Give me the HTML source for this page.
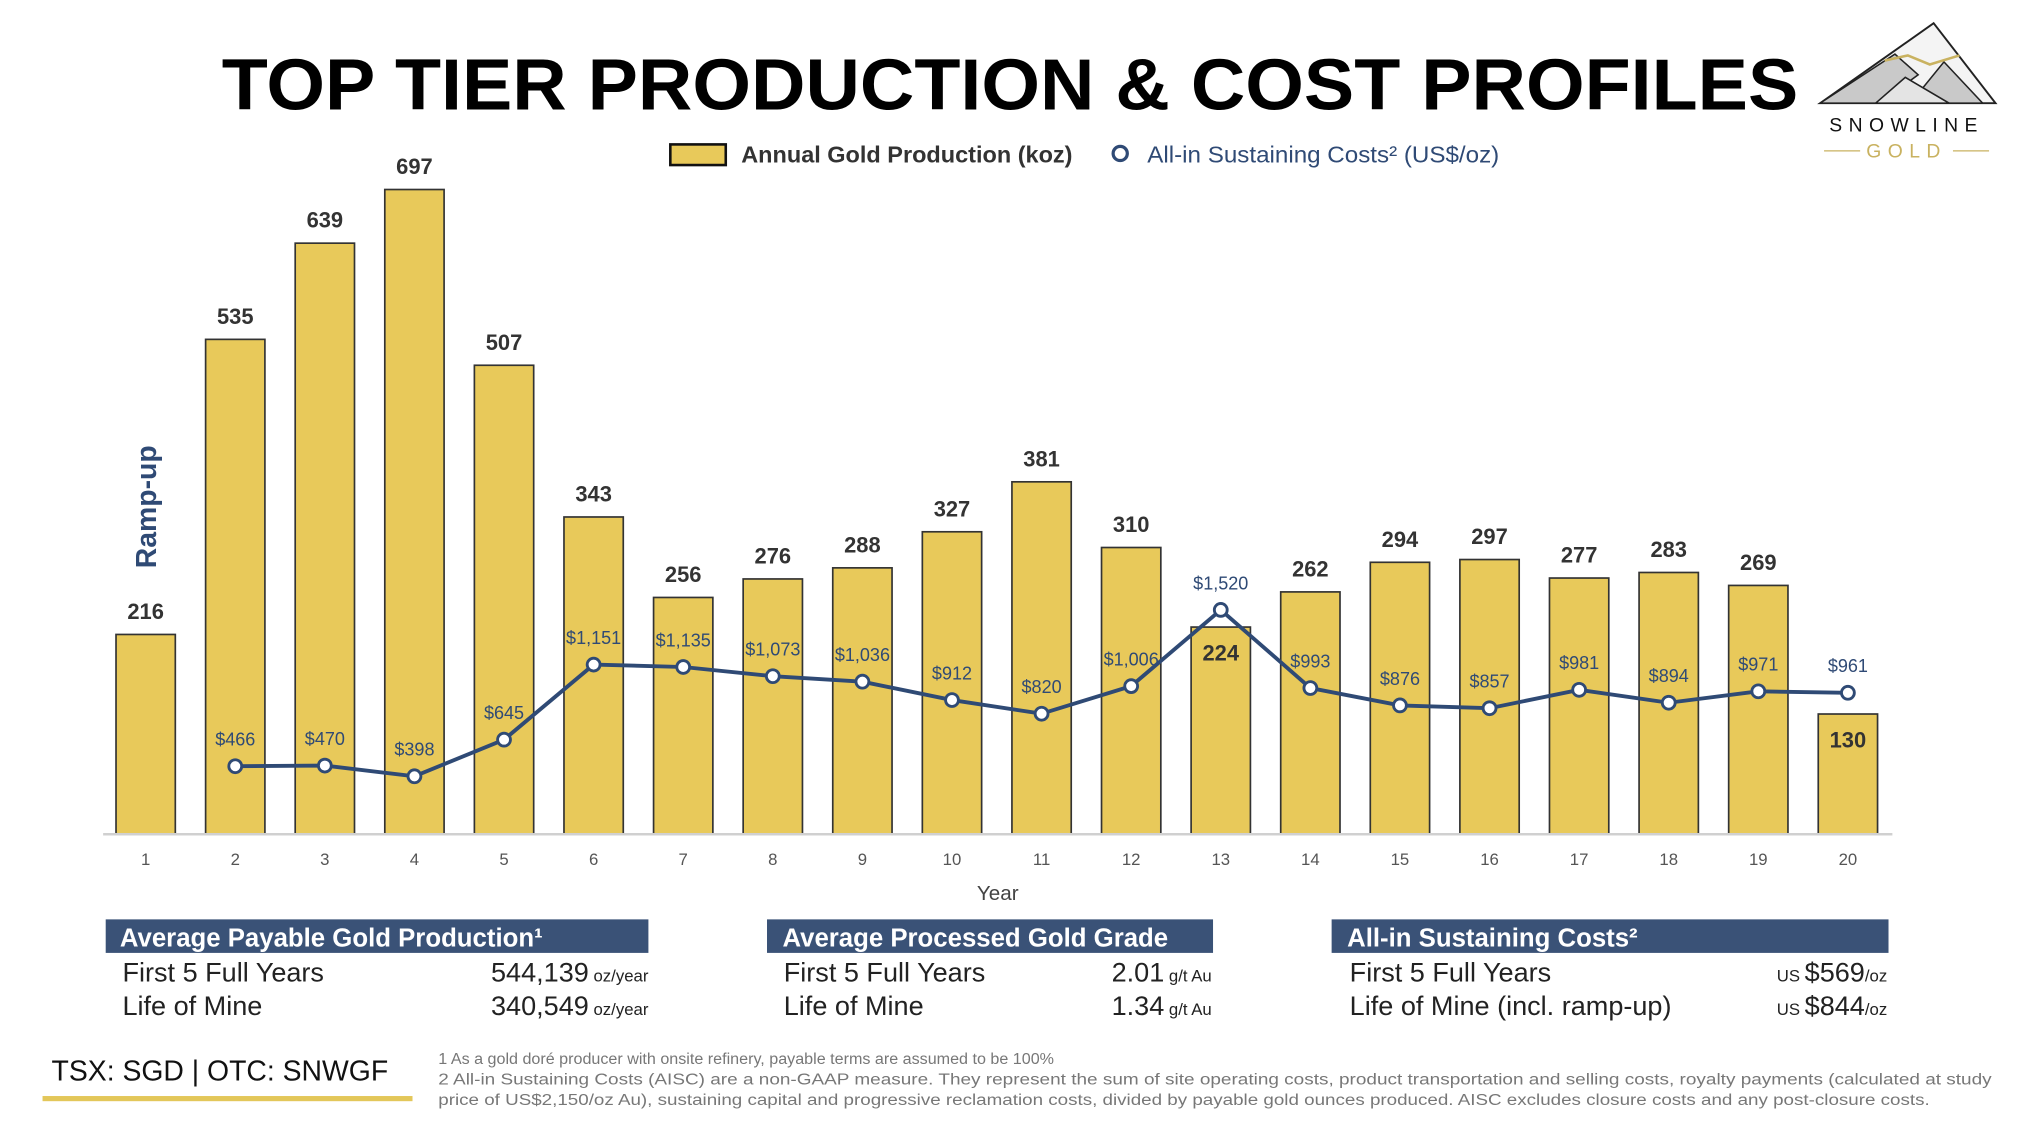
<!DOCTYPE html>
<html><head><meta charset="utf-8"><style>
html,body{margin:0;padding:0;background:#fff;width:2020px;height:1136px;overflow:hidden}
svg{display:block;font-family:"Liberation Sans",sans-serif}
</style></head><body>
<svg id="chart" width="2020" height="1136" viewBox="0 0 1567 881" preserveAspectRatio="none" xmlns="http://www.w3.org/2000/svg">
<text x="172" y="85" font-size="56" font-weight="bold" fill="#000" textLength="1223" lengthAdjust="spacingAndGlyphs">TOP TIER PRODUCTION &amp; COST PROFILES</text>
<g>
<polygon points="1412,80 1500,18 1548,80" fill="#f4f4f4" stroke="#222" stroke-width="1.5"/>
<polygon points="1412,80 1470,42 1488,58 1458,80" fill="#c9c9c9" stroke="#222" stroke-width="1.2"/>
<polygon points="1482,80 1508,48 1538,80" fill="#c9c9c9" stroke="#222" stroke-width="1.2"/>
<polygon points="1455,80 1478,60 1512,80" fill="#e4e4e4" stroke="#222" stroke-width="1.2"/>
<polyline points="1462,47 1480,43 1497,50 1520,43" fill="none" stroke="#c9b260" stroke-width="2"/>
<text x="1479" y="102" font-size="15" text-anchor="middle" letter-spacing="5" fill="#111">SNOWLINE</text>
<text x="1479" y="122" font-size="15" text-anchor="middle" letter-spacing="5" fill="#c9b260">GOLD</text>
<line x1="1415" y1="117" x2="1443" y2="117" stroke="#c9b260"/><line x1="1515" y1="117" x2="1543" y2="117" stroke="#c9b260"/>
</g>
<g>
<rect x="520" y="112" width="43" height="16" fill="#e8c95a" stroke="#111" stroke-width="2"/>
<text x="575" y="126" font-size="18" font-weight="bold" fill="#333" textLength="257" lengthAdjust="spacingAndGlyphs">Annual Gold Production (koz)</text>
<circle cx="869" cy="119" r="5.5" fill="#fff" stroke="#2f4a75" stroke-width="2.5"/>
<text x="890" y="126" font-size="18" fill="#2f4a75" textLength="273" lengthAdjust="spacingAndGlyphs">All-in Sustaining Costs² (US$/oz)</text>
</g>
<text transform="translate(121,393) rotate(-90)" font-size="22" font-weight="bold" fill="#2f4a75" text-anchor="middle">Ramp-up</text>
<g id="bars"></g>
<line x1="80" y1="647" x2="1468" y2="647" stroke="#d0d0d0" stroke-width="2"/>
<g id="line"></g>
<g id="ticks"></g>
<text x="774" y="698" font-size="16" fill="#444" text-anchor="middle">Year</text>

<g font-size="21" fill="#222">
<rect x="82" y="713" width="421" height="26" fill="#3a5277"/>
<text x="93" y="734" fill="#fff" font-weight="bold" font-size="20">Average Payable Gold Production¹</text>
<text x="95" y="761">First 5 Full Years</text><text x="503" y="761" text-anchor="end">544,139<tspan font-size="13"> oz/year</tspan></text>
<text x="95" y="787">Life of Mine</text><text x="503" y="787" text-anchor="end">340,549<tspan font-size="13"> oz/year</tspan></text>
</g>
<g font-size="21" fill="#222">
<rect x="595" y="713" width="346" height="26" fill="#3a5277"/>
<text x="607" y="734" fill="#fff" font-weight="bold" font-size="20">Average Processed Gold Grade</text>
<text x="608" y="761">First 5 Full Years</text><text x="940" y="761" text-anchor="end">2.01<tspan font-size="13"> g/t Au</tspan></text>
<text x="608" y="787">Life of Mine</text><text x="940" y="787" text-anchor="end">1.34<tspan font-size="13"> g/t Au</tspan></text>
</g>
<g font-size="21" fill="#222">
<rect x="1033" y="713" width="432" height="26" fill="#3a5277"/>
<text x="1045" y="734" fill="#fff" font-weight="bold" font-size="20">All-in Sustaining Costs²</text>
<text x="1047" y="761">First 5 Full Years</text><text x="1464" y="761" text-anchor="end"><tspan font-size="13">US </tspan>$569<tspan font-size="13">/oz</tspan></text>
<text x="1047" y="787">Life of Mine (incl. ramp-up)</text><text x="1464" y="787" text-anchor="end"><tspan font-size="13">US </tspan>$844<tspan font-size="13">/oz</tspan></text>
</g>
<text x="40" y="838" font-size="22" fill="#111">TSX: SGD | OTC: SNWGF</text>
<rect x="33" y="850" width="287" height="4" fill="#e3c75a"/>
<g font-size="12.5" fill="#777">
<text x="340" y="825">1 As a gold doré producer with onsite refinery, payable terms are assumed to be 100%</text>
<text x="340" y="841" textLength="1205" lengthAdjust="spacingAndGlyphs">2 All-in Sustaining Costs (AISC) are a non-GAAP measure. They represent the sum of site operating costs, product transportation and selling costs, royalty payments (calculated at study</text>
<text x="340" y="857" textLength="1157" lengthAdjust="spacingAndGlyphs">price of US$2,150/oz Au), sustaining capital and progressive reclamation costs, divided by payable gold ounces produced.  AISC excludes closure costs and any post-closure costs.</text>
</g>
</svg>
<script>
const years = [1,2,3,4,5,6,7,8,9,10,11,12,13,14,15,16,17,18,19,20];
const production = [216,535,639,697,507,343,256,276,288,327,381,310,224,262,294,297,277,283,269,130];
const aiscYears = [2,3,4,5,6,7,8,9,10,11,12,13,14,15,16,17,18,19,20];
const aisc = [466,470,398,645,1151,1135,1073,1036,912,820,1006,1520,993,876,857,981,894,971,961];
const aiscLabels = ["$466","$470","$398","$645","$1,151","$1,135","$1,073","$1,036","$912","$820","$1,006","$1,520","$993","$876","$857","$981","$894","$971","$961"];
const NS="http://www.w3.org/2000/svg";
const xPos = y => 113 + (y-1)*69.5;
const yProd = v => 647 - v*0.7174;
const yCost = v => 647.8 - v*0.115;
function mk(tag, attrs, parent){const e=document.createElementNS(NS,tag);for(const k in attrs)e.setAttribute(k,attrs[k]);parent.appendChild(e);return e;}
const bars=document.getElementById('bars'), line=document.getElementById('line'), ticks=document.getElementById('ticks');
years.forEach((yr,i)=>{
  const v=production[i], top=yProd(v), cx=xPos(yr);
  const r=mk('rect',{x:cx-23,y:top,width:46,height:647-top,fill:'#e8c95a',stroke:'#333','stroke-width':1.3},bars);
  
  
  const inside = (yr===13||yr===20);
  const t=mk('text',{x:cx,y:inside?top+26:top-12,'font-size':17,'font-weight':'bold',fill:'#333','text-anchor':'middle'},bars);
  t.textContent=v;
  
  
  const tk=mk('text',{x:cx,y:671,'font-size':13,fill:'#555','text-anchor':'middle'},ticks);
  tk.textContent=yr;
  
  
});
const pts=aiscYears.map((yr,i)=>xPos(yr)+','+yCost(aisc[i])).join(' ');
const pl=mk('polyline',{points:pts,fill:'none',stroke:'#2f4a75','stroke-width':3},line);


aiscYears.forEach((yr,i)=>{
  const cx=xPos(yr), cy=yCost(aisc[i]);
  const c=mk('circle',{cx:cx,cy:cy,r:5,fill:'#fff',stroke:'#2f4a75','stroke-width':2.2},line);
  
  
  const t=mk('text',{x:cx,y:cy-16,'font-size':14,fill:'#2f4a75','text-anchor':'middle'},line);
  t.textContent=aiscLabels[i];
  
  
});
</script>
</body></html>
